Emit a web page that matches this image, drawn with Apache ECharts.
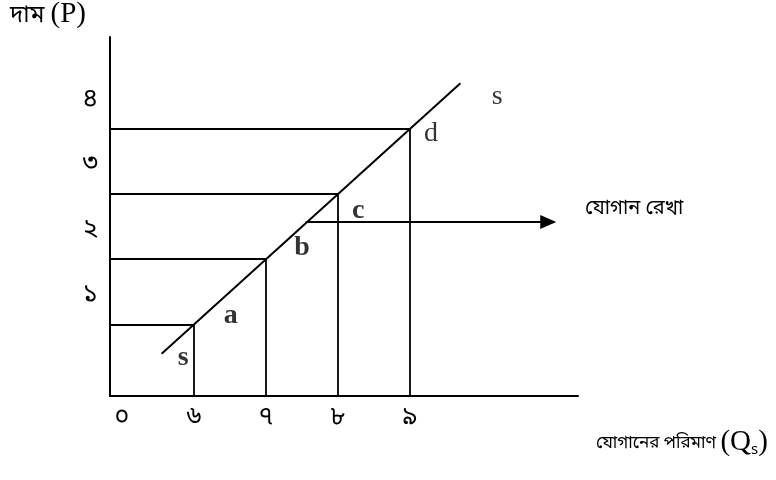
<!DOCTYPE html>
<html>
<head>
<meta charset="utf-8">
<script src="https://cdn.jsdelivr.net/npm/echarts@6/dist/echarts.min.js"></script>
<style>
  html, body { margin: 0; padding: 0; background: #fff; }
  #chart { width: 776px; height: 480px; }
</style>
</head>
<body>
<div id="chart"></div>
<script>
// supply schedule (quantity -> price)
var quantities = [6, 7, 8, 9];
var prices = [1, 2, 3, 4];

// the S line drawn through the points
var supplyLine = [[5.55, 0.55], [9.7, 4.7]];

// tick labels
var xTicks = [5, 6, 7, 8, 9];
var xTickText = ['০', '৬', '৭', '৮', '৯'];
var yTicks = [1, 2, 3, 4];
var yTickText = ['১', '২', '৩', '৪'];

// text labels placed next to the curve (data coords)
var curveLabels = [
  { text: 'a', at: [6.51, 1.13], bold: true },
  { text: 'b', at: [7.50, 2.17], bold: true },
  { text: 'c', at: [8.28, 2.74], bold: true },
  { text: 'd', at: [9.29, 3.92], bold: false },
  { text: 's', at: [5.85, 0.48], bold: true },
  { text: 's', at: [10.21, 4.50], bold: false }
];

// arrow pointing to the label "যোগান রেখা"
var arrowLine = [[7.55, 2.57], [10.92, 2.57]];

var xMin = 4.833, xMax = 11.333, yMin = -0.1, yMax = 5.41;

var serif = '"Liberation Serif", "Times New Roman", serif';
var bangla = '"Noto Sans Bengali", "Noto Serif Bengali", "FreeSerif", "Noto Sans", sans-serif';

var myChart = echarts.init(document.getElementById('chart'));

// guide lines: from the P axis to the point, then down to the Q axis
var guides = [];
for (var i = 0; i < quantities.length; i++) {
  guides.push([{ coord: [xMin, prices[i]] }, { coord: [quantities[i], prices[i]] }]);
  guides.push([{ coord: [quantities[i], prices[i]] }, { coord: [quantities[i], yMin] }]);
}

var option = {
  animation: false,
  backgroundColor: '#fff',
  grid: { left: 110, right: 198, top: 37, bottom: 84 },
  xAxis: {
    type: 'value',
    min: xMin,
    max: xMax,
    axisLine: { show: true, onZero: false, lineStyle: { color: '#000', width: 2 } },
    axisTick: { show: false },
    splitLine: { show: false },
    axisLabel: {
      customValues: xTicks,
      margin: 11,
      color: '#000',
      fontSize: 25,
      fontFamily: bangla,
      formatter: function (v) {
        return xTickText[xTicks.indexOf(v)];
      }
    }
  },
  yAxis: {
    type: 'value',
    min: yMin,
    max: yMax,
    axisLine: { show: true, onZero: false, lineStyle: { color: '#000', width: 2 } },
    axisTick: { show: false },
    splitLine: { show: false },
    axisLabel: {
      customValues: yTicks,
      margin: 12,
      color: '#000',
      fontSize: 26,
      fontFamily: bangla,
      verticalAlign: 'bottom',
      padding: [0, 0, 15, 0],
      formatter: function (v) {
        return yTickText[yTicks.indexOf(v)];
      }
    }
  },
  series: [
    {
      type: 'line',
      data: supplyLine,
      symbol: 'none',
      lineStyle: { color: '#000', width: 2 },
      markLine: {
        silent: true,
        symbol: ['none', 'none'],
        label: { show: false },
        lineStyle: { color: '#000', width: 1.8, type: 'solid' },
        data: guides
      }
    },
    {
      type: 'line',
      data: arrowLine,
      symbol: 'none',
      lineStyle: { width: 0 },
      markLine: {
        silent: true,
        symbol: ['none', 'triangle'],
        symbolSize: [14, 16],
        label: { show: false },
        lineStyle: { color: '#000', width: 2, type: 'solid' },
        data: [[{ coord: arrowLine[0] }, { coord: arrowLine[1] }]]
      }
    },
    {
      type: 'scatter',
      symbolSize: 0,
      data: curveLabels.map(function (l) {
        return {
          value: l.at,
          label: {
            show: true,
            position: 'inside',
            formatter: l.text,
            color: '#000',
            fontSize: 28,
            fontFamily: serif,
            fontWeight: l.bold ? 'bold' : 'normal'
          }
        };
      })
    }
  ],
  graphic: [
    {
      type: 'text', left: 10, top: 0,
      style: {
        text: '{b|দাম }{p|(P)}',
        fill: '#000',
        rich: {
          b: { fontSize: 24, fontFamily: bangla, verticalAlign: 'bottom' },
          p: { fontSize: 29, fontFamily: serif, verticalAlign: 'bottom' }
        }
      }
    },
    {
      type: 'text', left: 585, top: 200,
      style: { text: 'যোগান রেখা', fill: '#000', font: '20px ' + bangla }
    },
    {
      type: 'text', left: 596, top: 428,
      style: {
        text: '{b|যোগানের পরিমাণ }{p|(Q}{s|s}{p|)}',
        fill: '#000',
        rich: {
          b: { fontSize: 17, fontFamily: bangla, verticalAlign: 'bottom', padding: [0, 0, 4, 0] },
          p: { fontSize: 29, fontFamily: serif, verticalAlign: 'bottom' },
          s: { fontSize: 15, fontFamily: bangla, verticalAlign: 'bottom', padding: [0, 0, -2, 0] }
        }
      }
    }
  ]
};

myChart.setOption(option);
</script>
</body>
</html>
